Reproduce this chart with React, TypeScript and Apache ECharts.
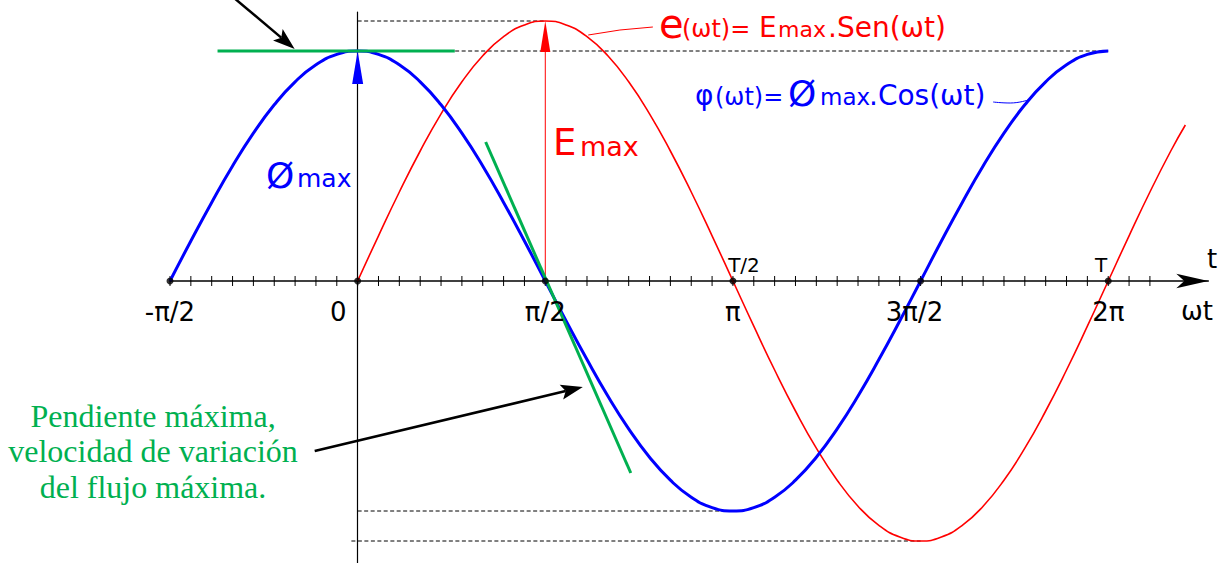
import { useEffect, useRef } from "react";
import * as echarts from "echarts";

// ωt in degrees for each sample of the flux wave φ(ωt) = Ømax·cos(ωt)
const fluxAngles = [
  -90, -80, -70, -60, -50, -40, -30, -20, -10, 0, 10, 20, 30, 40, 50, 60, 70, 80, 90,
  100, 110, 120, 130, 140, 150, 160, 170, 180, 190, 200, 210, 220, 230, 240, 250, 260, 270,
  280, 290, 300, 310, 320, 330, 340, 350, 360,
];
const fluxValues = [
  0, 0.2, 0.393, 0.575, 0.739, 0.881, 0.996, 1.081, 1.133, 1.15, 1.133, 1.081, 0.996, 0.881, 0.739, 0.575, 0.393, 0.2, 0,
  -0.2, -0.393, -0.575, -0.739, -0.881, -0.996, -1.081, -1.133, -1.15, -1.133, -1.081, -0.996, -0.881, -0.739, -0.575, -0.393, -0.2, 0,
  0.2, 0.393, 0.575, 0.739, 0.881, 0.996, 1.081, 1.133, 1.15,
];

// ωt in degrees for each sample of the emf wave e(ωt) = Emax·sen(ωt)
const emfAngles = [
  0, 10, 20, 30, 40, 50, 60, 70, 80, 90, 100, 110, 120, 130, 140, 150, 160, 170, 180,
  190, 200, 210, 220, 230, 240, 250, 260, 270, 280, 290, 300, 310, 320, 330, 340, 350, 360,
  370, 380, 390, 397,
];
const emfValues = [
  0, 0.226, 0.445, 0.65, 0.836, 0.996, 1.126, 1.222, 1.28, 1.3, 1.28, 1.222, 1.126, 0.996, 0.836, 0.65, 0.445, 0.226, 0,
  -0.226, -0.445, -0.65, -0.836, -0.996, -1.126, -1.222, -1.28, -1.3, -1.28, -1.222, -1.126, -0.996, -0.836, -0.65, -0.445, -0.226, 0,
  0.226, 0.445, 0.65, 0.78,
];

const E_MAX = 1.3;
const PHI_MAX = 1.15;

// main marks on the ωt axis
const axisMarks = [-90, 0, 90, 180, 270, 360];
const axisMarkLabels = ["-π/2", "0", "π/2", "π", "3π/2", "2π"];
const tickAngles: number[] = [];
for (let a = -90; a <= 380; a += 10) tickAngles.push(a);

// segments [x1, y1, x2, y2] in (degrees, amplitude)
const dashedGuides = [
  [0, E_MAX, 90, E_MAX],
  [0, PHI_MAX, 360, PHI_MAX],
  [0, -PHI_MAX, 180, -PHI_MAX],
  [-3, -E_MAX, 270, -E_MAX],
];
const greenLines = [
  [-67.2, PHI_MAX, 46.6, PHI_MAX],
  [61.4, 0.695, 131, -0.96],
];
const blackArrows = [
  [-63.8, 1.455, -30.2, 1.16],
  [-20.6, -0.85, 108, -0.53],
];
const emfArrow = [[90, 0, 90, E_MAX]];
const fluxArrow = [[0, 0.98, 0, PHI_MAX]];
const emfLeader = [[110.6, 1.23], [125.8, 1.255], [141.6, 1.27]];
const fluxLeader = [[304.8, 0.895], [313, 0.89], [321.6, 0.905]];

const SANS = '"DejaVu Sans", Verdana, sans-serif';
const SERIF = '"Liberation Serif", "Times New Roman", serif';
const RED = "#ff0000";
const BLUE = "#0000ff";
const GREEN = "#00b050";

type Head = { len: number; wid: number; notch: number };

function segmentSeries(
  segments: number[][],
  color: string,
  width: number,
  z: number,
  dash?: number[],
  head?: Head
) {
  return {
    type: "custom",
    coordinateSystem: "cartesian2d",
    silent: true,
    z,
    data: segments,
    encode: { x: [0, 2], y: [1, 3] },
    renderItem: (_params: any, api: any) => {
      const a = api.coord([api.value(0), api.value(1)]);
      const b = api.coord([api.value(2), api.value(3)]);
      const children: any[] = [];
      let end = b;
      if (head) {
        const dx = b[0] - a[0];
        const dy = b[1] - a[1];
        const l = Math.hypot(dx, dy) || 1;
        const ux = dx / l;
        const uy = dy / l;
        const nx = -uy;
        const ny = ux;
        const bx = b[0] - ux * head.len;
        const by = b[1] - uy * head.len;
        const mx = bx + ux * head.len * head.notch;
        const my = by + uy * head.len * head.notch;
        end = [mx, my];
        children.push({
          type: "polygon",
          z2: 2,
          shape: {
            points: [
              [b[0], b[1]],
              [bx + (nx * head.wid) / 2, by + (ny * head.wid) / 2],
              [mx, my],
              [bx - (nx * head.wid) / 2, by - (ny * head.wid) / 2],
            ],
          },
          style: { fill: color },
        });
      }
      if (width > 0) {
        children.push({
          type: "line",
          z2: 1,
          shape: { x1: a[0], y1: a[1], x2: end[0], y2: end[1] },
          style: { stroke: color, lineWidth: width, lineDash: dash || null },
        });
      }
      return { type: "group", children };
    },
  };
}

// small ticks crossing the ωt axis on both sides
function tickSeries() {
  return {
    type: "custom",
    coordinateSystem: "cartesian2d",
    silent: true,
    z: 2,
    data: tickAngles.map((a) => [a, 0]),
    encode: { x: 0, y: 1 },
    renderItem: (_params: any, api: any) => {
      const p = api.coord([api.value(0), api.value(1)]);
      return {
        type: "line",
        shape: { x1: p[0], y1: p[1] - 5, x2: p[0], y2: p[1] + 5 },
        style: { stroke: "#000", lineWidth: 1 },
      };
    },
  };
}

// π-fraction labels under the main marks of the ωt axis
function markLabelSeries() {
  return {
    type: "custom",
    coordinateSystem: "cartesian2d",
    silent: true,
    z: 9,
    data: axisMarks.map((a, i) => [a, 0, i]),
    encode: { x: 0, y: 1 },
    renderItem: (_params: any, api: any) => {
      const p = api.coord([api.value(0), api.value(1)]);
      const i = api.value(2);
      const shift = axisMarks[i] === 0 ? -19.5 : axisMarks[i] === 270 ? -6 : 0;
      return {
        type: "text",
        x: p[0] + shift,
        y: p[1] + 30.5,
        style: {
          text: axisMarkLabels[i],
          fill: "#000",
          font: `26px ${SANS}`,
          align: "center",
          verticalAlign: "middle",
        },
      };
    },
  };
}

function txt(x: number, baseline: number, text: string, size: number, color: string, family = SANS, align = "left") {
  return {
    type: "text",
    x,
    y: baseline - size * 0.33,
    silent: true,
    z: 10,
    style: {
      text,
      fill: color,
      font: `${size}px ${family}`,
      align,
      verticalAlign: "middle",
    },
  };
}

export default function App() {
  const ref = useRef<HTMLDivElement>(null);

  useEffect(() => {
    if (!ref.current) return;
    const chart = echarts.init(ref.current, null, { renderer: "svg" });

    chart.setOption({
      animation: false,
      backgroundColor: "#ffffff",
      grid: { left: 170, top: 12, width: 1038.3, height: 551, containLabel: false, outerBoundsMode: "none" },
      xAxis: {
        type: "value",
        min: -90,
        max: 408,
        position: "bottom",
        splitLine: { show: false },
        axisLine: {
          show: true,
          onZero: true,
          lineStyle: { color: "#000", width: 1.5 },
          symbol: ["none", "arrow"],
          symbolSize: [11, 32],
        },
        axisTick: { show: false },
        axisLabel: { show: false },
      },
      yAxis: {
        type: "value",
        min: -1.41,
        max: 1.345,
        axisLine: { show: true, onZero: true, lineStyle: { color: "#000", width: 1.2 } },
        axisTick: { show: false },
        axisLabel: { show: false },
        splitLine: { show: false },
      },
      series: [
        segmentSeries(dashedGuides, "#000", 1, 1, [4, 2.5]),
        tickSeries(),
        markLabelSeries(),
        {
          type: "line",
          silent: true,
          z: 3,
          data: emfValues.map((v, i) => [emfAngles[i], v]),
          smooth: true,
          showSymbol: false,
          lineStyle: { color: RED, width: 1.6 },
        },
        {
          type: "line",
          silent: true,
          z: 4,
          data: fluxValues.map((v, i) => [fluxAngles[i], v]),
          smooth: true,
          showSymbol: false,
          lineStyle: { color: BLUE, width: 3 },
        },
        {
          type: "line",
          silent: true,
          z: 3,
          data: emfLeader,
          showSymbol: false,
          lineStyle: { color: RED, width: 1 },
        },
        {
          type: "line",
          silent: true,
          z: 3,
          data: fluxLeader,
          smooth: true,
          showSymbol: false,
          lineStyle: { color: BLUE, width: 1 },
        },
        segmentSeries(emfArrow, RED, 1, 5, undefined, { len: 31, wid: 10, notch: 0 }),
        segmentSeries(fluxArrow, BLUE, 0, 5, undefined, { len: 33, wid: 11, notch: 0 }),
        segmentSeries(greenLines, GREEN, 3, 6),
        segmentSeries(blackArrows, "#000", 2.5, 7, undefined, { len: 22, wid: 15, notch: 0.2 }),
        {
          type: "scatter",
          silent: true,
          z: 8,
          data: axisMarks.map((a) => [a, 0]),
          symbol: "circle",
          symbolSize: 7,
          itemStyle: { color: "#000" },
        },
      ],
      graphic: [
        // e(ωt) = Emax.Sen(ωt)
        txt(659, 37, "e", 40, RED),
        txt(682, 37, "(ωt)=", 24, RED),
        txt(759, 37, "E", 28, RED),
        txt(778, 37, "max", 22, RED),
        txt(828, 37, ".Sen(ωt)", 28, RED),
        // φ(ωt) = Ømax.Cos(ωt)
        txt(695, 105, "φ", 28, BLUE),
        txt(715, 105, "(ωt)=", 24, BLUE),
        txt(788, 105, "Ø", 36, BLUE),
        txt(820, 105, "max", 23, BLUE),
        txt(869, 105, ".Cos(ωt)", 28, BLUE),
        // amplitudes
        txt(266, 187, "Ø", 36, BLUE),
        txt(297, 187, "max", 25, BLUE),
        txt(553, 155, "E", 37, RED),
        txt(580, 155, "max", 27, RED),
        // axis annotations
        txt(744, 272, "T/2", 20, "#000", SANS, "center"),
        txt(1101, 272, "T", 20, "#000", SANS, "center"),
        txt(1212, 268, "t", 26, "#000", SANS, "center"),
        txt(1197, 320, "ωt", 26, "#000", SANS, "center"),
        // note on the maximum slope
        txt(153, 427, "Pendiente máxima,", 32, GREEN, SERIF, "center"),
        txt(153, 462, "velocidad de variación", 32, GREEN, SERIF, "center"),
        txt(153, 498, "del flujo máxima.", 32, GREEN, SERIF, "center"),
      ],
    });

    return () => chart.dispose();
  }, []);

  return (
    <div
      ref={ref}
      style={{ position: "absolute", left: 0, top: 0, width: 1232, height: 563, background: "#fff" }}
    />
  );
}
